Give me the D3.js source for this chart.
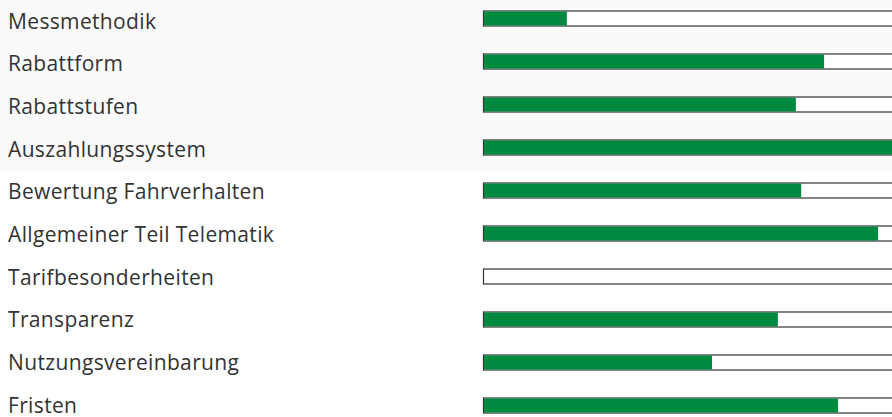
<!DOCTYPE html>
<html>
<head>
<meta charset="UTF-8">
<script src="https://d3js.org/d3.v7.min.js"></script>
<style>
  html, body { margin: 0; padding: 0; background: #fff; }
  svg { display: block; }
  .label { font-family: "Open Sans", sans-serif; font-size: 21px; letter-spacing: 0.35px; fill: #333; }
</style>
</head>
<body>
<div id="chart"></div>
<script>
  // categories and scores (percent of full bar)
  const categories = ["Messmethodik", "Rabattform", "Rabattstufen", "Auszahlungssystem",
    "Bewertung Fahrverhalten", "Allgemeiner Teil Telematik", "Tarifbesonderheiten",
    "Transparenz", "Nutzungsvereinbarung", "Fristen"];
  const values = [20.5, 83.4, 76.5, 100, 77.8, 96.6, 0, 72.1, 56, 86.8];
  const highlighted = ["Messmethodik", "Rabattform", "Rabattstufen", "Auszahlungssystem"];

  const width = 892, height = 417;
  const barLeft = 483, barRight = 892;
  const rowStep = 43;

  const svg = d3.select("#chart").append("svg").attr("width", width).attr("height", height);

  const y = d3.scaleBand().domain(categories)
    .range([-3.5, -3.5 + rowStep * categories.length]).paddingInner(0.65).paddingOuter(0.325);
  const x = d3.scaleLinear().domain([0, 100]).range([barLeft, barRight]);
  // label baselines
  const yText = d3.scalePoint().domain(categories).range([28.5, 412.5]);

  // light band behind first group
  const last = highlighted[highlighted.length - 1];
  svg.append("rect").attr("x", 0).attr("y", 0).attr("width", width)
    .attr("height", y(last) + y.bandwidth() + 17.5).attr("fill", "#fafafa");

  const bh = 15;
  const rows = svg.selectAll("g.row").data(categories).join("g").attr("class", "row");

  rows.append("rect")
    .attr("x", x(0) + 0.5)
    .attr("y", d => y(d) + y.bandwidth() / 2 - bh / 2 + 0.5)
    .attr("width", x(100) - x(0) + 5)
    .attr("height", bh)
    .attr("fill", "#fff")
    .attr("stroke", "#333")
    .attr("stroke-width", 1.2);

  rows.append("rect")
    .attr("x", x(0) + 1)
    .attr("y", d => y(d) + y.bandwidth() / 2 - bh / 2 + 1)
    .attr("width", (d, i) => Math.max(0, x(values[i]) - x(0) - 1))
    .attr("height", bh - 1)
    .attr("fill", "#008a40");

  rows.append("text")
    .attr("class", "label")
    .attr("x", 8)
    .attr("y", d => yText(d))
    .text(d => d);
</script>
</body>
</html>
